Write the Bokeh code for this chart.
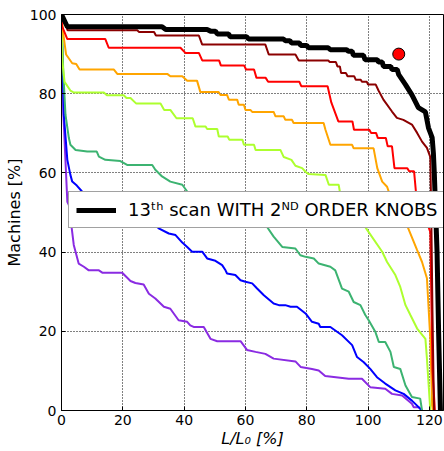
from bokeh.plotting import figure
from bokeh.models import Range1d, Legend, LegendItem, FixedTicker
from bokeh.embed import file_html
from bokeh.resources import INLINE

# ---------------- data ----------------
x_ticks = [0, 20, 40, 60, 80, 100, 120]
y_ticks = [0, 20, 40, 60, 80, 100]

purple_x = [0, 0.6, 1.9, 2.4, 4.0, 5.6, 7.3, 8.9, 12.2, 13.3, 19.8, 22.5, 24.1, 26.8, 28.5, 30.6, 33.4, 35.5,
            38.2, 41.0, 42.0, 43.1, 46.4, 48.6, 50.8, 58.4, 60.5, 63.3, 66.5, 69.2, 76.3, 78.0, 81.7, 83.9,
            86.0, 93.7, 98.0, 100.7, 105.6, 107.8, 111.1, 114.3, 114.9, 116.5, 117.6]
purple_y = [100, 75, 52.7, 51.9, 41.8, 37.1, 36.3, 35.4, 35.4, 34.8, 34.8, 32.7, 32.2, 31.8, 29.5, 28.3, 26.2, 25.7,
            22.8, 22.4, 21.5, 21.1, 21.1, 18.1, 17.5, 17.5, 15.3, 14.8, 14.3, 13.1, 12.4, 11.0, 10.5, 10.1,
            8.7, 8.0, 8.0, 5.9, 5.5, 4.2, 3.8, 1.7, 0.8, 0.8, 0]

blue_x = [0, 0.75, 1.9, 2.9, 3.5, 5.0, 6.7, 7.8, 10.0, 20.3, 31.7, 35.0, 37.2, 39.4, 41.0, 42.6, 45.9, 47.5,
          50.2, 52.4, 53.5, 54.0, 56.7, 58.4, 60.0, 62.2, 63.8, 66.0, 69.2, 70.9, 73.0, 74.7, 76.8, 79.6,
          81.7, 83.9, 84.4, 87.7, 91.5, 94.8, 96.4, 98.6, 100.7, 102.9, 105.6, 108.9, 111.6, 114.3, 117.6]
blue_y = [100, 74.7, 63.3, 59.5, 57.8, 56.8, 55.3, 54.8, 54.0, 54.0, 46.0, 44.7, 44.3, 42.4, 41.3, 40.1, 40.1, 38.4,
          37.8, 36.7, 35.4, 34.6, 34.2, 32.9, 32.5, 32.1, 30.8, 29.1, 27.0, 26.6, 26.6, 26.2, 26.2, 24.5,
          22.4, 21.9, 21.1, 21.1, 19.0, 16.5, 13.5, 12.2, 10.5, 8.4, 6.8, 5.1, 4.2, 2.5, 0]

green_x = [0, 0.6, 1.3, 2.4, 2.9, 4.6, 8.4, 11.5, 12.2, 14.3, 19.2, 21.4, 29.6, 30.6, 32.8, 35.5, 39.4, 41.0, 42.0,
           67.0, 69.2, 72.0, 76.3, 77.9, 79.6, 82.3, 83.9, 87.7, 89.3, 91.5, 93.7, 95.3, 97.5, 99.1, 100.2,
           102.4, 103.5, 105.6, 107.3, 108.4, 110.5, 112.2, 114.3, 117.0, 117.6]
green_y = [100, 85, 74.7, 68.8, 67.1, 65.8, 65.4, 65.4, 64.1, 63.3, 63.0, 62.0, 62.0, 60.8, 59.1, 57.8, 57.0, 55.3, 54.0,
           46.4, 43.9, 41.3, 40.9, 39.2, 38.8, 38.4, 37.1, 36.3, 35.4, 30.8, 30.0, 27.4, 26.6, 24.1, 22.8,
           19.8, 17.3, 17.3, 14.8, 11.0, 10.5, 6.3, 3.4, 3.0, 0]

yg_x = [0, 0.3, 1.0, 2.9, 4.0, 13.8, 14.8, 20.3, 21.2, 22.5, 24.4, 32.3, 33.5, 35.5, 37.5, 42.8, 43.7, 47.0,
        47.5, 50.8, 51.3, 54.2, 54.7, 59.0, 59.5, 62.8, 63.3, 71.4, 72.5, 75.0, 76.3, 78.5, 79.6, 80.6, 86.1,
        87.2, 90.4, 91.0, 92.6, 99.7, 104.6, 106.2, 108.9, 110.5, 112.2, 113.8, 116.0, 118.7, 119.2, 120.3]
yg_y = [100, 88, 83, 80.8, 80.3, 80.3, 79.6, 79.6, 78.9, 78.9, 77.5, 77.5, 75.9, 75.9, 73.8, 73.8, 71.7, 71.7,
        71.1, 71.1, 69.2, 69.2, 68.4, 68.4, 67.1, 67.1, 65.8, 65.8, 64.0, 63.3, 61.8, 61.2, 60.3, 59.7, 59.5,
        57.0, 57.0, 54.4, 53.9, 45.6, 40.1, 37.5, 34.2, 31.2, 26.6, 24.1, 20.7, 18.1, 13.1, 0]

orange_x = [0, 0.6, 1.5, 3.5, 4.8, 5.9, 17.1, 18.2, 34.5, 35.5, 39.4, 41.0, 44.2, 45.3, 51.3, 51.8, 54.0, 54.6,
            57.3, 57.8, 59.5, 60.0, 61.6, 62.2, 69.2, 69.8, 72.5, 73.0, 75.2, 75.7, 85.5, 86.1, 87.7, 94.8,
            95.3, 101.8, 103.0, 104.6, 106.2, 107.3, 113.1, 116.0, 117.6, 119.2, 120.3, 120.9, 121.2]
orange_y = [100, 95, 89.9, 87.7, 87.5, 86.1, 86.1, 85.0, 85.0, 84.4, 84.4, 83.3, 83.3, 80.4, 80.4, 79.7, 79.7, 78.5,
            78.5, 77.2, 77.2, 75.9, 75.9, 75.4, 75.4, 74.3, 74.3, 73.4, 73.4, 72.6, 72.6, 70.9, 67.1, 67.1,
            66.2, 66.2, 61.2, 57.8, 56.5, 54.0, 46.0, 40.5, 37.5, 33.4, 18.1, 1.3, 0]

red_x = [0, 0.2, 1.9, 14.3, 15.4, 38.8, 40.4, 44.8, 45.9, 51.4, 52.0, 59.6, 60.2, 62.8, 63.6, 66.6, 67.4, 77.6,
         78.2, 86.8, 88.0, 90.3, 94.9, 95.4, 100.4, 101.0, 102.6, 103.2, 105.8, 106.4, 107.8, 108.6, 112.8,
         113.4, 115.0, 115.6, 116.6, 119.0, 120.3, 120.6, 121.0, 121.8]
red_y = [100, 97, 93.8, 93.8, 91.6, 91.6, 90.3, 90.3, 88.4, 88.4, 87.1, 87.1, 86.1, 86.1, 84.0, 84.0, 83.0, 83.0,
         81.9, 81.9, 77.8, 73.0, 73.0, 70.9, 70.9, 70.1, 70.1, 68.8, 68.8, 66.7, 66.7, 61.2, 61.2,
         60.4, 60.4, 55.3, 54.0, 48.0, 45.0, 30.0, 10.0, 0]

darkred_x = [0, 2.0, 24.7, 25.3, 30.2, 30.8, 44.8, 45.9, 66.5, 67.6, 76.3, 77.4, 87.0, 87.5, 89.5, 90.0, 90.8,
             91.2, 92.8, 93.3, 95.5, 96.0, 97.6, 98.0, 99.6, 100.0, 102.5, 103.4, 105.0, 107.8, 109.4, 111.5,
             114.3, 116.0, 117.6, 119.2, 120.3, 120.6, 121.0, 121.5]
darkred_y = [100, 96.0, 96.0, 95.6, 95.6, 94.7, 94.7, 92.4, 92.4, 89.9, 89.9, 88.4, 88.4, 88.0, 88.0, 86.9, 86.9,
             85.2, 85.2, 84.4, 84.4, 83.5, 83.5, 83.0, 83.0, 82.3, 82.3, 80.8, 78.5, 75.5, 73.9, 73.4,
             72.2, 70.1, 67.9, 66.3, 64.0, 50.0, 25.0, 0]

black_x = [0, 1.9, 32.8, 34.0, 47.5, 48.6, 50.2, 50.8, 54.5, 55.0, 60.4, 61.0, 72.4, 73.0, 74.5, 75.0, 77.6, 78.0,
           80.0, 80.5, 87.0, 87.7, 93.0, 93.6, 94.8, 95.2, 98.5, 99.0, 103.0, 103.4, 104.6, 105.0, 107.4, 107.8,
           109.5, 110.0, 112.2, 114.3, 116.4, 118.7, 119.7, 120.9, 121.3, 121.6, 122.5, 123.0, 123.6]
black_y = [100, 96.9, 96.9, 96.2, 96.2, 95.8, 95.8, 95.1, 95.1, 94.4, 94.4, 93.8, 93.8, 93.4, 93.4, 92.8, 92.8, 92.2,
           92.2, 91.6, 91.6, 91.1, 91.1, 90.7, 90.7, 89.7, 89.7, 88.6, 88.6, 88.0, 88.0, 86.9, 86.9, 86.1,
           86.1, 84.8, 82.3, 79.7, 76.5, 75.4, 71.4, 68.9, 65.0, 60.0, 40.0, 20.0, 0]

dot_x = [110]
dot_y = [90]

legend_label = "13\u1d57\u02b0 scan WITH 2\u1d3a\u1d30 ORDER KNOBS"
x_label = "L/L\u2080 [%]"
y_label = "Machines [%]"

# ---------------- figure ----------------
FONT = "DejaVu Sans"
p = figure(width=444, height=451, x_range=Range1d(0, 124.6), y_range=Range1d(0, 100),
           output_backend="svg", toolbar_location=None,
           min_border_left=61, min_border_right=1, min_border_top=14, min_border_bottom=41)
p.background_fill_color = "white"
p.border_fill_color = "white"
p.outline_line_color = "black"
p.outline_line_width = 1

for ax, ticks in ((p.xaxis[0], x_ticks), (p.yaxis[0], y_ticks)):
    ax.ticker = FixedTicker(ticks=ticks)
    ax.major_label_text_font = FONT
    ax.major_label_text_font_size = "14px"
    ax.major_label_text_color = "black"
    ax.axis_line_color = "black"
    ax.major_tick_in = 4
    ax.major_tick_out = 0
    ax.major_tick_line_color = "black"
    ax.minor_tick_line_color = None
    ax.axis_label_text_font = FONT
    ax.axis_label_text_font_size = "16px"
    ax.axis_label_text_color = "black"
p.xaxis.major_label_standoff = 4
p.yaxis.major_label_standoff = 5
p.xaxis.axis_label = x_label
p.xaxis.axis_label_text_font_style = "italic"
p.xaxis.axis_label_standoff = 1
p.yaxis.axis_label = y_label
p.yaxis.axis_label_text_font_style = "normal"
p.yaxis.axis_label_standoff = 3

for g in (p.xgrid[0], p.ygrid[0]):
    g.grid_line_color = "black"
    g.grid_line_dash = "1 2"
    g.grid_line_width = 1
    g.grid_line_alpha = 1.0

curves = [
    (purple_x, purple_y, "#8A2BE2"),
    (blue_x, blue_y, "#0000FF"),
    (green_x, green_y, "#3CB371"),
    (yg_x, yg_y, "#ADFF2F"),
    (orange_x, orange_y, "#FFA500"),
    (red_x, red_y, "#FF0000"),
    (darkred_x, darkred_y, "#8B0000"),
]
for xs, ys, c in curves:
    p.line(xs, ys, line_color=c, line_width=2)

black_r = p.line(black_x, black_y, line_color="black", line_width=5)

p.scatter(dot_x, dot_y, size=12, fill_color="#FF0000", line_color="black", line_width=1)

legend = Legend(items=[LegendItem(label=legend_label, renderers=[black_r])],
                location=(7, 182), margin=0, padding=7, spacing=0,
                glyph_width=40, glyph_height=18, label_height=18, label_standoff=12,
                label_text_font=FONT, label_text_font_size="18px", label_text_color="black",
                border_line_color="#444444", border_line_width=1,
                background_fill_color="white", background_fill_alpha=1.0)
p.add_layout(legend)

open("out.html", "w").write(file_html(p, INLINE))
